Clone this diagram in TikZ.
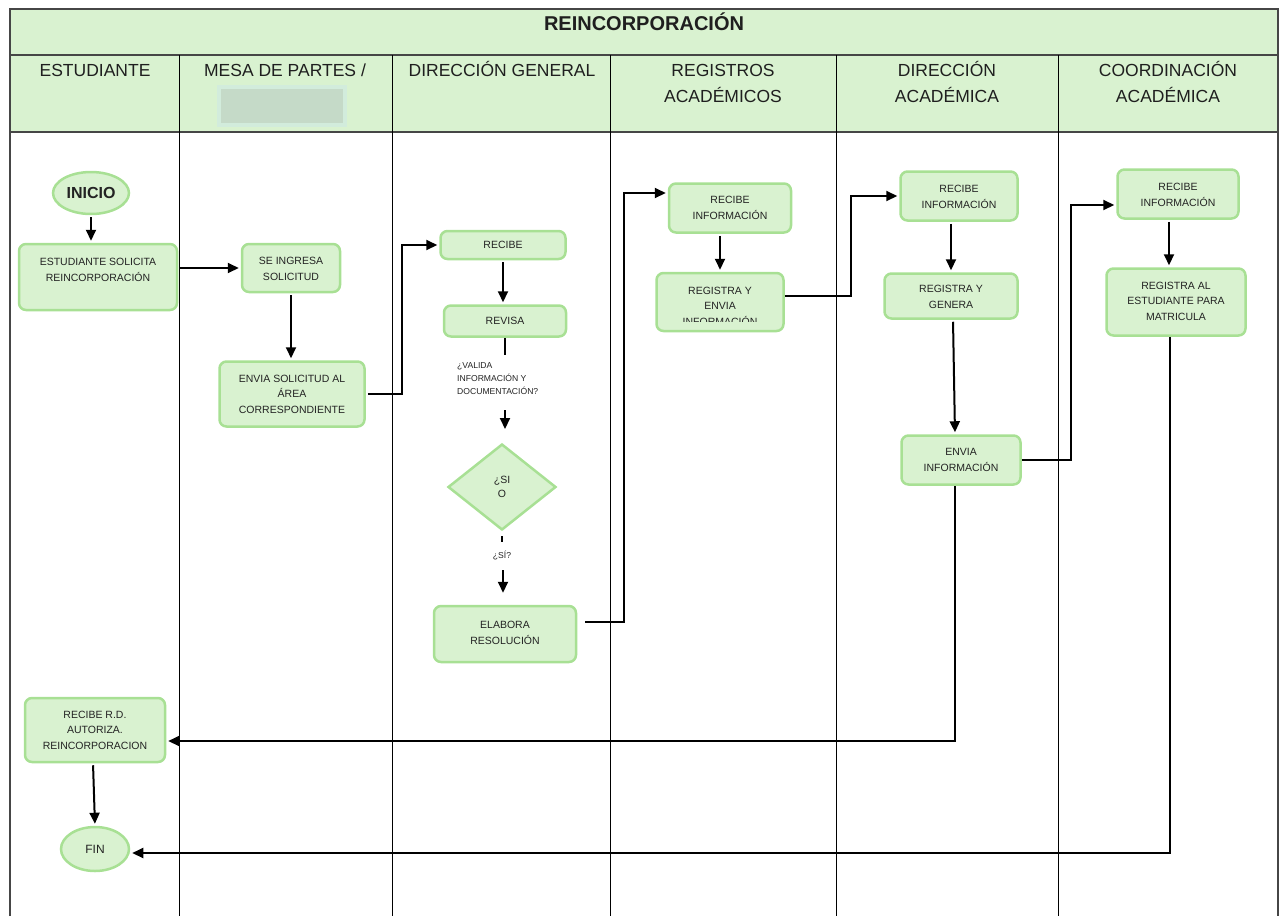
\documentclass[tikz,border=0pt]{standalone}
\usepackage{fontspec}
\setmainfont{Liberation Sans}
\usetikzlibrary{shapes.geometric,arrows.meta}
\definecolor{hdrfill}{RGB}{217,242,208}
\definecolor{boxfill}{RGB}{217,242,208}
\definecolor{boxline}{RGB}{168,224,148}
\definecolor{txt}{RGB}{35,35,35}
\definecolor{gridline}{RGB}{70,70,70}
\definecolor{phfill}{RGB}{197,218,200}
\definecolor{phline}{RGB}{210,236,220}
\begin{document}
\begin{tikzpicture}[x=1pt,y=-1pt,
  box/.style={draw=boxline, fill=boxfill, line width=2.5pt, rounded corners=7pt, inner sep=0pt},
  oval/.style={ellipse, draw=boxline, fill=boxfill, line width=2.5pt, text=txt, inner sep=0pt},
  btxt/.style={text=txt, align=center, font=\fontsize{10.5}{15.5}\selectfont, inner sep=0pt},
  hdr/.style={text=black!88, font=\fontsize{17.5}{26}\selectfont, anchor=base, inner sep=0pt},
  arr/.style={line width=2pt, -{Triangle[length=11pt,width=10pt]}, shorten >=2pt, shorten <=2pt},
  stub/.style={line width=2pt}
]
\useasboundingbox (0,0) rectangle (1285,916);
% table
\fill[hdrfill] (10,9) rectangle (1278,132);
\draw[gridline, line width=1.5pt] (10,916) -- (10,9) -- (1278,9) -- (1278,916);
\draw[gridline, line width=1.5pt] (10,55) -- (1278,55);
\draw[gridline, line width=1.5pt] (10,132) -- (1278,132);
\foreach \x in {179,392,610,836,1058} \draw[black, line width=1pt] (\x,55) -- (\x,916);
\node[text=black!88, font=\bfseries\fontsize{20}{24}\selectfont, anchor=base, inner sep=0pt] (title) at (644,30) {REINCORPORACIÓN};
\node[hdr] (h1) at (95,76) {ESTUDIANTE};
\node[hdr] (h2) at (285,76) {MESA DE PARTES /};
\node[draw=phline, fill=phfill, line width=4pt, minimum width=126, minimum height=38, inner sep=0pt] (ph) at (282,106) {};
\node[hdr] (h3) at (502,76) {DIRECCIÓN GENERAL};
\node[hdr] (h4a) at (723,76) {REGISTROS};
\node[hdr] (h4b) at (723,102) {ACADÉMICOS};
\node[hdr] (h5a) at (947,76) {DIRECCIÓN};
\node[hdr] (h5b) at (947,102) {ACADÉMICA};
\node[hdr] (h6a) at (1168,76) {COORDINACIÓN};
\node[hdr] (h6b) at (1168,102) {ACADÉMICA};

% nodes
\node[oval, minimum width=76, minimum height=42, font=\bfseries\fontsize{16}{18}\selectfont] (inicio) at (91,193) {INICIO};
\node[box, minimum width=158, minimum height=66] (est) at (98,277) {};
\node[btxt] (estt) at (98,270) {ESTUDIANTE SOLICITA\\REINCORPORACIÓN};
\node[box, minimum width=98, minimum height=48] (segr) at (291,268) {};
\node[btxt] (segrt) at (291,269) {SE INGRESA\\SOLICITUD};
\node[box, minimum width=145, minimum height=65] (envsol) at (292,394) {};
\node[btxt] (envsolt) at (292,394) {ENVIA SOLICITUD AL\\ÁREA\\CORRESPONDIENTE};
\node[box, minimum width=125, minimum height=28] (recibe) at (503,245) {};
\node[btxt] (recibet) at (503,245) {RECIBE};
\node[box, minimum width=122, minimum height=31] (revisa) at (505,321) {};
\node[btxt] (revisat) at (505,321) {REVISA};
\node[text=txt, align=left, anchor=north west, inner sep=0pt, font=\fontsize{8.6}{13}\selectfont] (preg) at (457,362) {¿VALIDA\\INFORMACIÓN Y\\DOCUMENTACIÓN?};
\node[diamond, draw=boxline, fill=boxfill, line width=2.5pt, minimum width=108, minimum height=86, inner sep=0pt] (dec) at (502,487) {};
\node[btxt, font=\fontsize{10.5}{14}\selectfont] (dect) at (502,487) {¿SI\\O};
\node[text=txt, inner sep=0pt, font=\fontsize{8.6}{10}\selectfont] (sil) at (502,555) {¿SÍ?};
\node[box, minimum width=142, minimum height=56] (elabora) at (505,634) {};
\node[btxt] (elaborat) at (505,633) {ELABORA\\RESOLUCIÓN};
\node[box, minimum width=122, minimum height=49] (recibera) at (730,208) {};
\node[btxt] (reciberat) at (730,208) {RECIBE\\INFORMACIÓN};
\node[box, minimum width=127, minimum height=58] (regenv) at (720,302) {};
\begin{scope}
\clip (650,270) rectangle (790,321);
\node[btxt] (regenvt) at (720,306) {REGISTRA Y\\ENVIA\\INFORMACIÓN};
\end{scope}
\node[box, minimum width=117, minimum height=49] (recibeda) at (959,196) {};
\node[btxt] (recibedat) at (959,197) {RECIBE\\INFORMACIÓN};
\node[box, minimum width=133, minimum height=45] (reggen) at (951,296) {};
\node[btxt] (reggent) at (951,297) {REGISTRA Y\\GENERA};
\node[box, minimum width=119, minimum height=49] (envinfo) at (961,460) {};
\node[btxt] (envinfot) at (961,460) {ENVIA\\INFORMACIÓN};
\node[box, minimum width=121, minimum height=49] (recibeca) at (1178,194) {};
\node[btxt] (recibecat) at (1178,195) {RECIBE\\INFORMACIÓN};
\node[box, minimum width=139, minimum height=67] (regal) at (1176,302) {};
\node[btxt] (regalt) at (1176,301) {REGISTRA AL\\ESTUDIANTE PARA\\MATRICULA};
\node[box, minimum width=140, minimum height=64] (recrd) at (95,730) {};
\node[btxt] (recrdt) at (95,730) {RECIBE R.D.\\AUTORIZA.\\REINCORPORACION};
\node[oval, minimum width=68, minimum height=44, font=\fontsize{12}{14}\selectfont] (fin) at (95,849) {FIN};

% connectors
\draw[arr] (inicio.south) -- (inicio.south |- est.north);
\draw[arr] (est.east |- segr.west) -- (segr.west);
\draw[arr] (segr.south) -- (segr.south |- envsol.north);
\draw[arr] (envsol.east) -- ++(36,0) |- (recibe.west);
\draw[arr] (recibe.south) -- (recibe.south |- revisa.north);
\draw[stub] (revisa.south) -- ++(0,17);
\coordinate (qa) at (505,410);
\coordinate (qb) at (505,431);
\draw[arr, shorten <=0pt] (qa) -- (qb);
\draw[stub] ([yshift=-5pt]dec.south) -- ++(0,6);
\coordinate (sa) at (503,570);
\draw[arr, shorten <=0pt, shorten >=12pt] (sa) -- (sa |- elabora.north);
\draw[arr, shorten <=0pt] ([xshift=8pt,yshift=12pt]elabora.east) -- ++(39,0) |- ([yshift=15pt]recibera.west);
\draw[arr] (regenv.north |- recibera.south) -- (regenv.north);
\draw[arr, shorten <=0pt] ([yshift=6pt]regenv.east) -- ++(66,0) |- (recibeda.west);
\draw[arr] (reggen.north |- recibeda.south) -- (reggen.north);
\draw[arr] ([xshift=2pt]reggen.south) -- ([xshift=-6pt]envinfo.north);
\draw[arr, shorten <=0pt] (envinfo.east) -- ++(49,0) |- ([yshift=-11pt]recibeca.west);
\draw[arr] ([xshift=-9pt]recibeca.south) -- ([xshift=-7pt]regal.north);
\draw[arr, shorten <=0pt] ([xshift=-6pt]envinfo.south) |- ([yshift=-11pt]recrd.east);
\draw[arr, shorten <=0pt] ([xshift=-6pt]regal.south) |- ([yshift=-4pt]fin.east);
\draw[arr] ([xshift=-2pt]recrd.south) -- (fin.north);
\end{tikzpicture}
\end{document}
